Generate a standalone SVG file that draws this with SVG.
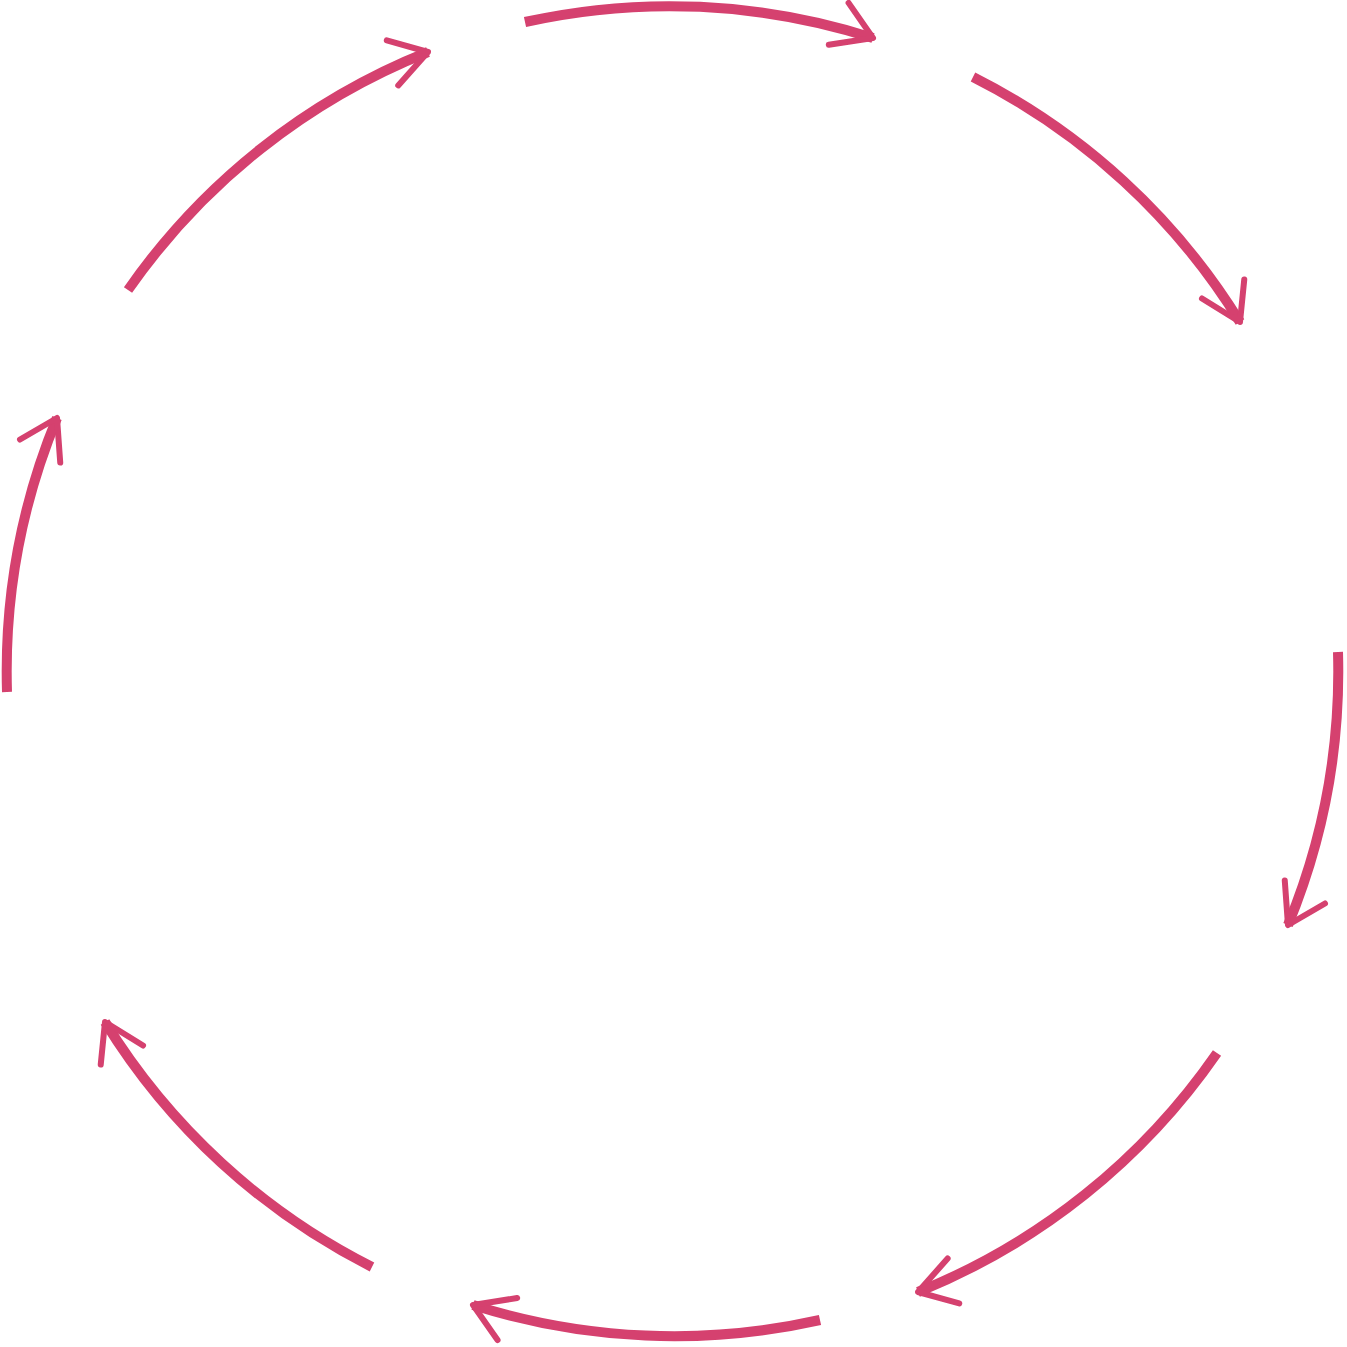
<svg xmlns="http://www.w3.org/2000/svg" width="1347" height="1347" viewBox="0 0 1347 1347">
<defs>
<style>
.arc{fill:none;stroke:#d5416f;stroke-width:10;stroke-linecap:butt;marker-end:url(#ah)}
</style>
<marker id="ah" markerUnits="userSpaceOnUse" orient="auto" markerWidth="90" markerHeight="90" refX="0" refY="0" viewBox="-55 -45 90 90" overflow="visible">
<path d="M-34,-26 L0,0 L-40,20" fill="none" stroke="#d5416f" stroke-width="6" stroke-linecap="round" stroke-linejoin="round"/>
</marker>
</defs>
<rect width="1347" height="1347" fill="#ffffff"/>
<g id="connectors">
<path class="arc" d="M525,22 A666,666 0 0 1 873,38"/>
<path class="arc" d="M973,77 A666,666 0 0 1 1240,322"/>
<path class="arc" d="M1338,652 A666,666 0 0 1 1288,925"/>
<path class="arc" d="M1217,1053 A666,666 0 0 1 918,1292"/>
<path class="arc" d="M820,1320 A666,666 0 0 1 473,1305"/>
<path class="arc" d="M372,1267 A666,666 0 0 1 105,1022"/>
<path class="arc" d="M7,692 A666,666 0 0 1 57,418"/>
<path class="arc" d="M128,290 A666,666 0 0 1 428,52"/>
</g>
</svg>
